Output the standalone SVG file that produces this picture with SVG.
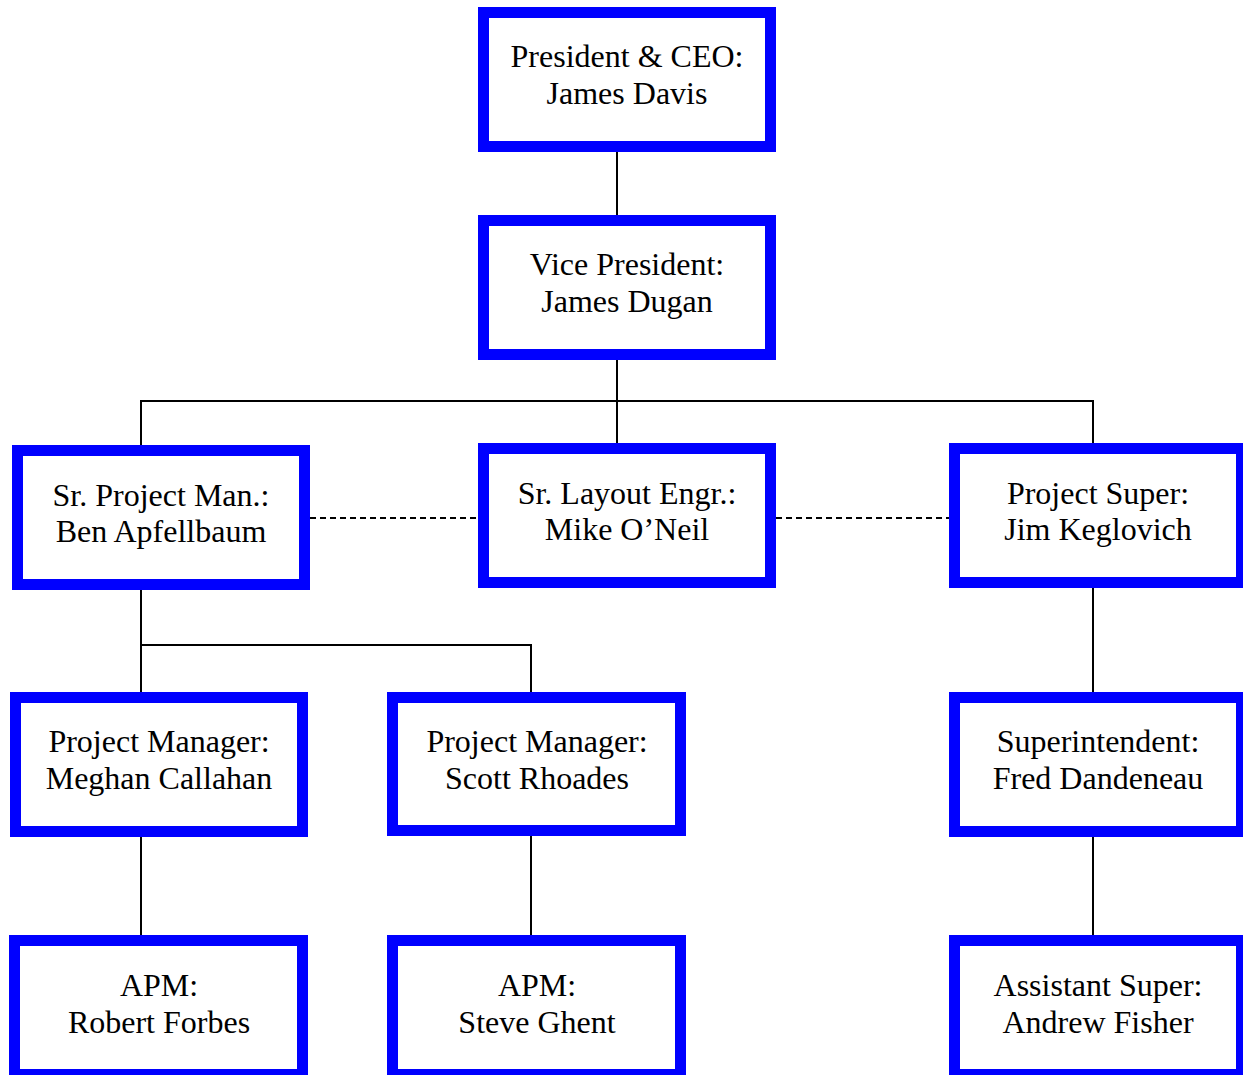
<svg xmlns="http://www.w3.org/2000/svg" width="1243" height="1075" viewBox="0 0 1243 1075">
<style>
.box{fill:#fff;stroke:#0000ff;stroke-width:11}
.t{font-family:"Liberation Serif","Times New Roman",serif;font-size:32px;fill:#000;text-anchor:middle}
.ln{fill:none;stroke:#000;stroke-width:2}
.dash{fill:none;stroke:#000;stroke-width:2;stroke-dasharray:6 4}
</style>
<rect width="1243" height="1075" fill="#fff"/>
<g id="connectors">
<path class="ln" d="M617 152V215"/>
<path class="ln" d="M617 360V443M141 445V401H1093V443"/>
<path class="dash" d="M310 518H478M776 518H949"/>
<path class="ln" d="M141 590V692M141 645H531V692"/>
<path class="ln" d="M1093 588V692"/>
<path class="ln" d="M141 837V935M531 836V935M1093 837V935"/>
</g>
<g id="ceo"><rect class="box" x="483.5" y="12.5" width="287" height="134"/><text class="t" x="627" y="67">President &amp; CEO:</text><text class="t" x="627" y="104">James Davis</text></g>
<g id="vp"><rect class="box" x="483.5" y="220.5" width="287" height="134"/><text class="t" x="627" y="275">Vice President:</text><text class="t" x="627" y="312">James Dugan</text></g>
<g id="spm"><rect class="box" x="17.5" y="450.5" width="287" height="134"/><text class="t" x="161" y="506">Sr. Project Man.:</text><text class="t" x="161" y="542">Ben Apfellbaum</text></g>
<g id="layout"><rect class="box" x="483.5" y="448.5" width="287" height="134"/><text class="t" x="627" y="504">Sr. Layout Engr.:</text><text class="t" x="627" y="540">Mike O’Neil</text></g>
<g id="psuper"><rect class="box" x="954.5" y="448.5" width="287" height="134"/><text class="t" x="1098" y="504">Project Super:</text><text class="t" x="1098" y="540">Jim Keglovich</text></g>
<g id="meghan"><rect class="box" x="15.5" y="697.5" width="287" height="134"/><text class="t" x="159" y="752">Project Manager:</text><text class="t" x="159" y="789">Meghan Callahan</text></g>
<g id="scott"><rect class="box" x="392.5" y="697.5" width="288" height="133"/><text class="t" x="537" y="752">Project Manager:</text><text class="t" x="537" y="789">Scott Rhoades</text></g>
<g id="fred"><rect class="box" x="954.5" y="697.5" width="287" height="134"/><text class="t" x="1098" y="752">Superintendent:</text><text class="t" x="1098" y="789">Fred Dandeneau</text></g>
<g id="robert"><rect class="box" x="14.5" y="940.5" width="288" height="134"/><text class="t" x="159" y="996">APM:</text><text class="t" x="159" y="1033">Robert Forbes</text></g>
<g id="steve"><rect class="box" x="392.5" y="940.5" width="288" height="134"/><text class="t" x="537" y="996">APM:</text><text class="t" x="537" y="1033">Steve Ghent</text></g>
<g id="andrew"><rect class="box" x="954.5" y="940.5" width="287" height="134"/><text class="t" x="1098" y="996">Assistant Super:</text><text class="t" x="1098" y="1033">Andrew Fisher</text></g>
</svg>
